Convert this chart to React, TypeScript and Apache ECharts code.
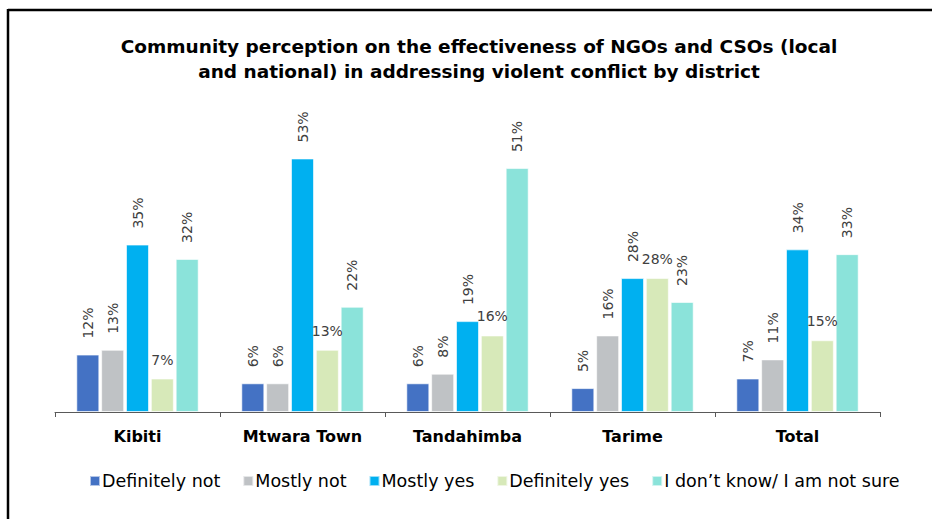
import React, { useEffect, useRef } from "react";
import * as echarts from "echarts";

const districts = ["Kibiti", "Mtwara Town", "Tandahimba", "Tarime", "Total"];
const definitelyNot = [12, 6, 6, 5, 7];
const mostlyNot = [13, 6, 8, 16, 11];
const mostlyYes = [35, 53, 19, 28, 34];
const definitelyYes = [7, 13, 16, 28, 15];
const dontKnow = [32, 22, 51, 23, 33];

const seriesNames = [
  "Definitely not",
  "Mostly not",
  "Mostly yes",
  "Definitely yes",
  "I don\u2019t know/ I am not sure",
];
const seriesColors = ["#4472C4", "#BFC2C5", "#00B0F0", "#D7E9B9", "#8BE3DA"];
const titleText =
  "Community perception on the effectiveness of NGOs and CSOs (local\nand national) in addressing violent conflict by district";

const FONT = "DejaVu Sans";

export default function App() {
  const ref = useRef<HTMLDivElement>(null);
  useEffect(() => {
    if (!ref.current) return;
    const chart = echarts.init(ref.current, null, { renderer: "svg" });
    const dataSets = [definitelyNot, mostlyNot, mostlyYes, definitelyYes, dontKnow];
    const series = dataSets.map((d, i) => {
      const horizontal = i === 3;
      return {
        name: seriesNames[i],
        type: "bar",
        data: d,
        barWidth: 23,
        barGap: "8%",
        itemStyle: {
          color: seriesColors[i],
          borderColor: "rgba(255,255,255,0.6)",
          borderWidth: 1,
        },
        label: horizontal
          ? {
              show: true,
              position: "top",
              distance: 12,
              formatter: "{c}%",
              fontFamily: FONT,
              fontSize: 14,
              color: "#404040",
            }
          : {
              show: true,
              position: "top",
              rotate: 90,
              align: "left",
              verticalAlign: "middle",
              distance: 16,
              formatter: "{c}%",
              fontFamily: FONT,
              fontSize: 14,
              color: "#404040",
            },
      };
    });
    chart.setOption({
      animation: false,
      backgroundColor: "#ffffff",
      title: {
        text: titleText,
        left: 474,
        top: 29,
        textAlign: "center",
        textStyle: {
          fontFamily: FONT,
          fontWeight: "bold",
          fontSize: 18.5,
          lineHeight: 25,
          color: "#000000",
        },
      },
      legend: {
        data: seriesNames,
        left: 84,
        top: 467,
        icon: "rect",
        itemWidth: 10,
        itemHeight: 10,
        itemGap: 22,
        textStyle: { fontFamily: FONT, fontSize: 17.5, color: "#000000", padding: [0, 0, 0, -3] },
      },
      grid: { left: 55, right: 52, top: 125, bottom: 107 },
      xAxis: {
        type: "category",
        data: districts,
        axisLine: { show: true, lineStyle: { color: "#595959", width: 1 } },
        axisTick: { show: true, length: 5, lineStyle: { color: "#595959" } },
        axisLabel: {
          margin: 16,
          fontFamily: FONT,
          fontWeight: "bold",
          fontSize: 16,
          color: "#000000",
        },
      },
      yAxis: {
        type: "value",
        min: 0,
        max: 60,
        show: false,
        splitLine: { show: false },
      },
      graphic: [
        {
          type: "line",
          shape: { x1: 8, y1: 10, x2: 932, y2: 10 },
          style: { stroke: "#000000", lineWidth: 2.5 },
        },
        {
          type: "line",
          shape: { x1: 8, y1: 9, x2: 8, y2: 519 },
          style: { stroke: "#000000", lineWidth: 2.5 },
        },
      ],
      series,
    });
    return () => chart.dispose();
  }, []);
  return (
    <div
      ref={ref}
      style={{ position: "fixed", left: 0, top: 0, width: 932, height: 519 }}
    />
  );
}
